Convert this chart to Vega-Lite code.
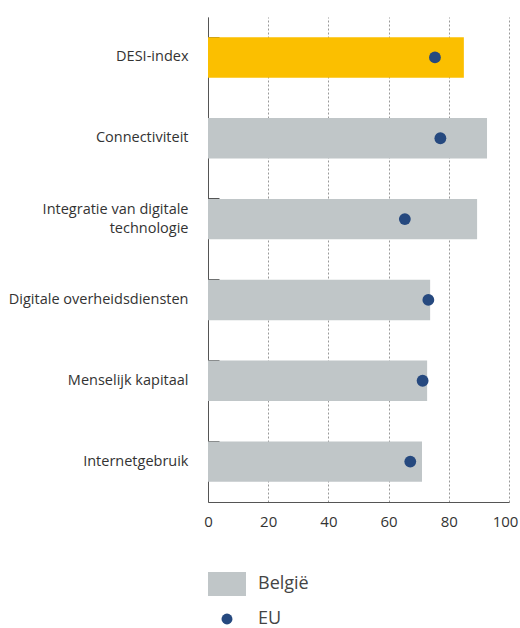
{
  "$schema": "https://vega.github.io/schema/vega-lite/v6.json",
  "width": 301,
  "height": 485,
  "autosize": {"type": "none"},
  "padding": {"left": 208, "top": 17, "right": 11, "bottom": 126},
  "background": "white",
  "config": {
    "view": {"stroke": null},
    "font": "Open Sans",
    "axis": {"labelFont": "Open Sans", "labelColor": "#333333"}
  },
  "data": {
    "values": [
      {"categorie": "DESI-index", "belgie": 85.0, "eu": 75.4},
      {"categorie": "Connectiviteit", "belgie": 92.7, "eu": 77.2},
      {"categorie": "Integratie van digitale technologie", "belgie": 89.4, "eu": 65.4},
      {"categorie": "Digitale overheidsdiensten", "belgie": 73.8, "eu": 73.2},
      {"categorie": "Menselijk kapitaal", "belgie": 72.8, "eu": 71.3},
      {"categorie": "Internetgebruik", "belgie": 71.1, "eu": 67.2}
    ]
  },
  "encoding": {
    "y": {
      "field": "categorie",
      "type": "nominal",
      "sort": null,
      "scale": {"paddingInner": 0.5, "paddingOuter": 0.25},
      "axis": {
        "title": null,
        "bandPosition": 0,
        "domainColor": "#555555",
        "tickColor": "#555555",
        "tickSize": -11,
        "labelPadding": 31,
        "labelFontSize": 14.5,
        "labelLineHeight": 19,
        "labelOffset": {"condition": {"test": "datum.value == 'Integratie van digitale technologie'", "value": -9.5}, "value": 0},
        "labelExpr": "datum.label == 'Integratie van digitale technologie' ? ['Integratie van digitale', 'technologie'] : datum.label"
      }
    }
  },
  "layer": [
    {
      "mark": {"type": "bar"},
      "encoding": {
        "x": {
          "field": "belgie",
          "type": "quantitative",
          "scale": {"domain": [0, 100], "nice": false},
          "axis": {
            "title": null,
            "values": [0, 20, 40, 60, 80, 100],
            "grid": true,
            "gridColor": "#999999",
            "gridDash": [2, 2],
            "gridWidth": 1,
            "ticks": false,
            "labelFlush": false,
            "labelOffset": {"condition": {"test": "datum.value == 100", "value": -4}, "value": 0},
            "domainColor": "#555555",
            "labelPadding": 12,
            "labelFontSize": 15
          }
        },
        "color": {
          "condition": {"test": "datum.categorie == 'DESI-index'", "value": "#FBBF00"},
          "datum": "België",
          "scale": {"domain": ["België", "EU"], "range": ["#C0C6C8", "#26497F"]},
          "legend": {
            "title": null,
            "orient": "none",
            "legendX": 10,
            "legendY": 558,
            "padding": 0,
            "labelFontSize": 18,
            "labelColor": "#444444",
            "labelFont": "Open Sans",
            "labelOffset": 22,
            "rowPadding": 14,
            "symbolOpacity": 1,
            "encode": {
              "symbols": {
                "update": {
                  "shape": {"signal": "datum.value === 'België' ? 'M-1,-0.63H1V0.63H-1Z' : 'circle'"},
                  "size": {"signal": "datum.value === 'België' ? 1444 : 120"},
                  "fill": {"signal": "datum.value === 'België' ? '#C0C6C8' : '#26497F'"},
                  "strokeWidth": {"value": 0}
                }
              }
            }
          }
        }
      }
    },
    {
      "mark": {"type": "point", "filled": true, "size": 140, "opacity": 1},
      "encoding": {
        "x": {"field": "eu", "type": "quantitative"},
        "color": {"datum": "EU"}
      }
    }
  ]
}
